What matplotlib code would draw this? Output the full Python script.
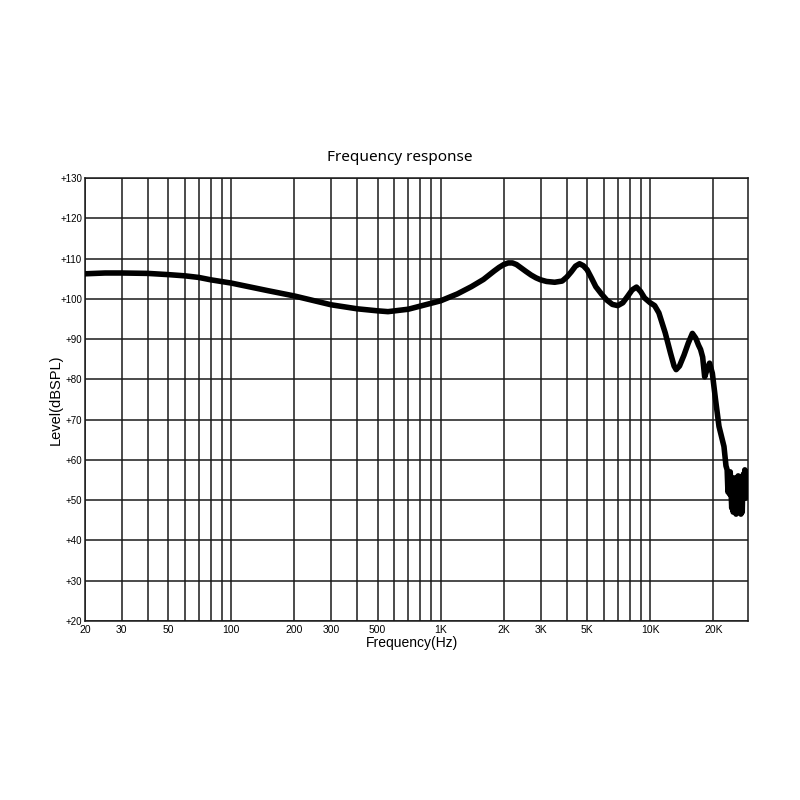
import matplotlib
matplotlib.use("Agg")
import matplotlib.pyplot as plt
from matplotlib.ticker import FixedLocator, NullFormatter, NullLocator

# ---- data ----
freq_hz = [20, 25, 30, 40, 50, 60, 70, 80, 100, 150, 200, 300, 400, 500, 560, 700,
           1000, 1200, 1400, 1600, 1800, 1900, 2000, 2100, 2200, 2300, 2400, 2550,
           2700, 2850, 3000, 3200, 3500, 3800, 4000, 4200, 4400, 4600, 4800, 5000,
           5250, 5500, 5850, 6200, 6600, 7000, 7400, 7800, 8200, 8600, 9000, 9400,
           10000, 10500, 11000, 11800, 12500, 13000, 13300, 13800, 14500, 15200,
           15900, 16500, 17000, 17400, 17800, 18200, 18700, 19200, 19800, 20500,
           21300, 22500, 23000,
           23300, 23500, 23700, 23900, 24100, 24300, 24500, 24700, 24900, 25100,
           25300, 25500, 25700, 25900, 26100, 26300, 26500, 26700, 26900, 27100,
           27300, 27500, 27700, 27900, 28100, 28300, 28500, 28700, 28900, 29100,
           29300, 29500]
level_db = [106.2, 106.4, 106.4, 106.3, 106.0, 105.7, 105.3, 104.7, 103.9, 102.0, 100.7,
            98.5, 97.5, 97.0, 96.8, 97.4,
            99.5, 101.2, 103.0, 104.8, 106.9, 107.8, 108.5, 108.9, 108.9, 108.5,
            107.8, 106.8, 105.9, 105.2, 104.7, 104.3, 104.1, 104.4, 105.4, 106.7,
            108.1, 108.7, 108.2, 107.2, 105.1, 103.0, 101.2, 99.7, 98.6, 98.3, 99.0,
            100.6, 102.2, 102.9, 101.8, 100.2,
            99.0, 98.3, 96.5, 91.5, 86.5, 83.3, 82.4, 83.3, 86.0, 89.0,
            91.4, 90.2, 88.5, 87.4, 85.5, 80.6, 82.5, 84.0, 81.5, 75.0,
            68.3, 63.3, 58.5,
            57.5, 52.0, 56.5, 51.5, 57.0, 52.5, 48.0, 55.5, 47.0, 54.5,
            48.5, 55.5, 46.5, 53.0, 48.5, 56.0, 51.0, 47.0, 54.5, 46.5,
            53.5, 47.0, 55.0, 56.5, 51.0, 57.5, 50.5, 55.0, 52.0, 57.0,
            53.5, 55.0]

x_major = [20, 30, 50, 100, 200, 300, 500, 1000, 2000, 3000, 5000, 10000, 20000]
x_major_labels = ["20", "30", "50", "100", "200", "300", "500", "1K", "2K", "3K",
                  "5K", "10K", "20K"]
x_grid = [20, 30, 40, 50, 60, 70, 80, 90, 100, 200, 300, 400, 500, 600, 700, 800, 900,
          1000, 2000, 3000, 4000, 5000, 6000, 7000, 8000, 9000, 10000, 20000]
y_ticks = [20, 30, 40, 50, 60, 70, 80, 90, 100, 110, 120, 130]
y_tick_labels = ["+%d" % v for v in y_ticks]

title = "Frequency response"
x_label = "Frequency(Hz)"
y_label = "Level(dBSPL)"

# ---- figure ----
fig = plt.figure(figsize=(8, 8), dpi=100)
ax = fig.add_axes([0.106, 0.224, 0.829, 0.5535])

ax.set_xscale("log")
ax.set_xlim(20, 29300)
ax.set_ylim(20, 130)

for gx in x_grid:
    ax.axvline(gx, color="#1a1a1a", lw=1.1, zorder=1)
for gy in y_ticks:
    ax.axhline(gy, color="#1a1a1a", lw=1.1, zorder=1)

ax.plot(freq_hz, level_db, color="black", lw=4.0, solid_joinstyle="round",
        solid_capstyle="round", zorder=3)

ax.xaxis.set_major_locator(FixedLocator(x_major))
ax.xaxis.set_minor_locator(NullLocator())
ax.xaxis.set_minor_formatter(NullFormatter())
ax.set_xticks(x_major)
ax.set_xticklabels(x_major_labels, fontfamily="Liberation Sans", fontsize=7.5)
ax.set_yticks(y_ticks)
ax.set_yticklabels(y_tick_labels, fontfamily="Liberation Sans", fontsize=7)
ax.tick_params(axis="both", length=0, pad=2)
ax.tick_params(axis="x", pad=3)

for s in ax.spines.values():
    s.set_color("#1a1a1a")
    s.set_linewidth(1.1)

ax.set_xlabel(x_label, fontfamily="Liberation Sans", fontsize=10, labelpad=1)
ax.xaxis.set_label_coords(0.493, -0.035)
ax.set_ylabel(y_label, fontfamily="Liberation Sans", fontsize=10.5)
ax.yaxis.set_label_coords(-0.033, 0.5)
fig.text(0.5, 0.803, title, fontfamily="Noto Sans", fontsize=11, ha="center",
         va="center")

fig.savefig("out.png", dpi=100, facecolor="white")
